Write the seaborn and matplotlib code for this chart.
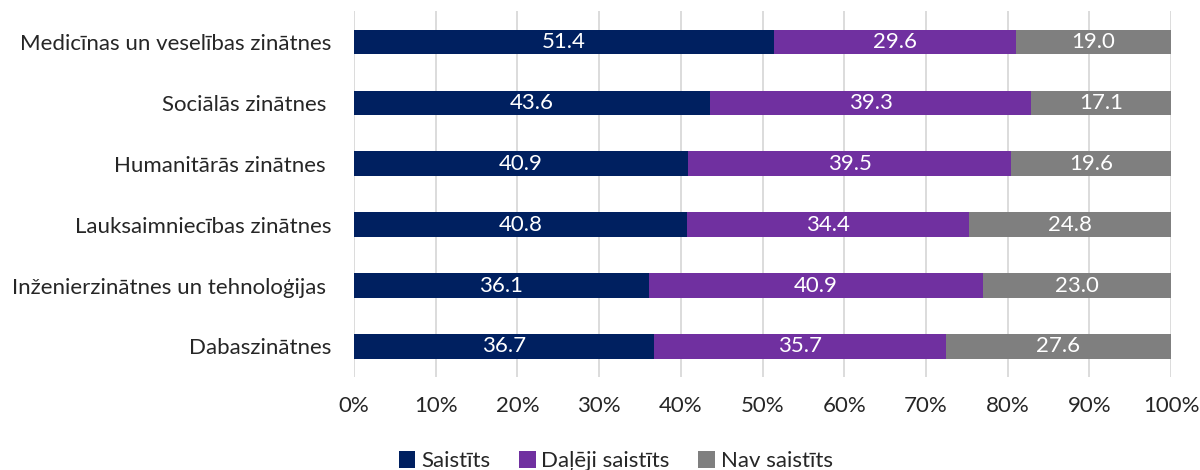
import matplotlib
matplotlib.use("Agg")
import matplotlib.pyplot as plt
import seaborn as sns
import pandas as pd
import numpy as np
from matplotlib.patches import Patch

categories = ["Medicīnas un veselības zinātnes", "Sociālās zinātnes ", "Humanitārās zinātnes ",
              "Lauksaimniecības zinātnes", "Inženierzinātnes un tehnoloģijas ", "Dabaszinātnes"]
saistits = [51.4, 43.6, 40.9, 40.8, 36.1, 36.7]
daleji = [29.6, 39.3, 39.5, 34.4, 40.9, 35.7]
nav = [19.0, 17.1, 19.6, 24.8, 23.0, 27.6]
series_names = ["Saistīts", "Daļēji saistīts", "Nav saistīts"]
colors = ["#002060", "#7030A0", "#7F7F7F"]
xticks = [0, 10, 20, 30, 40, 50, 60, 70, 80, 90, 100]

sns.set_theme(style="white")
plt.rcParams['font.family'] = ['Lato', 'DejaVu Sans']
FS = 16

fig = plt.figure(figsize=(12, 4.7), dpi=100)
ax = fig.add_axes([0.295, 0.198, 0.681, 0.778])

s = np.array(saistits); d = np.array(daleji); n = np.array(nav)
cum1 = s
cum2 = s + d
cum3 = s + d + n
df = pd.DataFrame({"cat": categories, "c1": cum1, "c2": cum2, "c3": cum3})

for col, colr in [("c3", colors[2]), ("c2", colors[1]), ("c1", colors[0])]:
    sns.barplot(data=df, x=col, y="cat", color=colr, saturation=1, width=0.4,
                ax=ax, orient="h", zorder=3, linewidth=0)

starts = [np.zeros_like(s), cum1, cum2]
for vals, st in zip([s, d, n], starts):
    for i, (v, l) in enumerate(zip(vals, st)):
        ax.text(l + v / 2, i, f"{v:.1f}", color="white", ha="center", va="center",
                fontsize=FS, zorder=5)

ax.set_xlim(0, 100)
ax.set_ylim(5.5, -0.5)
ax.set_xticks(xticks)
ax.set_xticklabels([f"{t}%" for t in xticks], fontsize=FS)
ax.tick_params(axis="y", labelsize=FS, pad=16, length=0)
ax.tick_params(axis="x", pad=14, length=0)
ax.set_xlabel("")
ax.set_ylabel("")
ax.xaxis.grid(True, color="#D9D9D9", linewidth=1.3, zorder=0)
ax.set_axisbelow(True)
for sp in ax.spines.values():
    sp.set_visible(False)

handles = [Patch(facecolor=c, edgecolor="none") for c in colors]
fig.legend(handles, series_names, loc="lower center", bbox_to_anchor=(0.513, -0.045),
           ncol=3, frameon=False, fontsize=FS, handlelength=0.75, handleheight=0.75,
           handletextpad=0.25, columnspacing=1.3)

fig.savefig("out.png", dpi=100)
